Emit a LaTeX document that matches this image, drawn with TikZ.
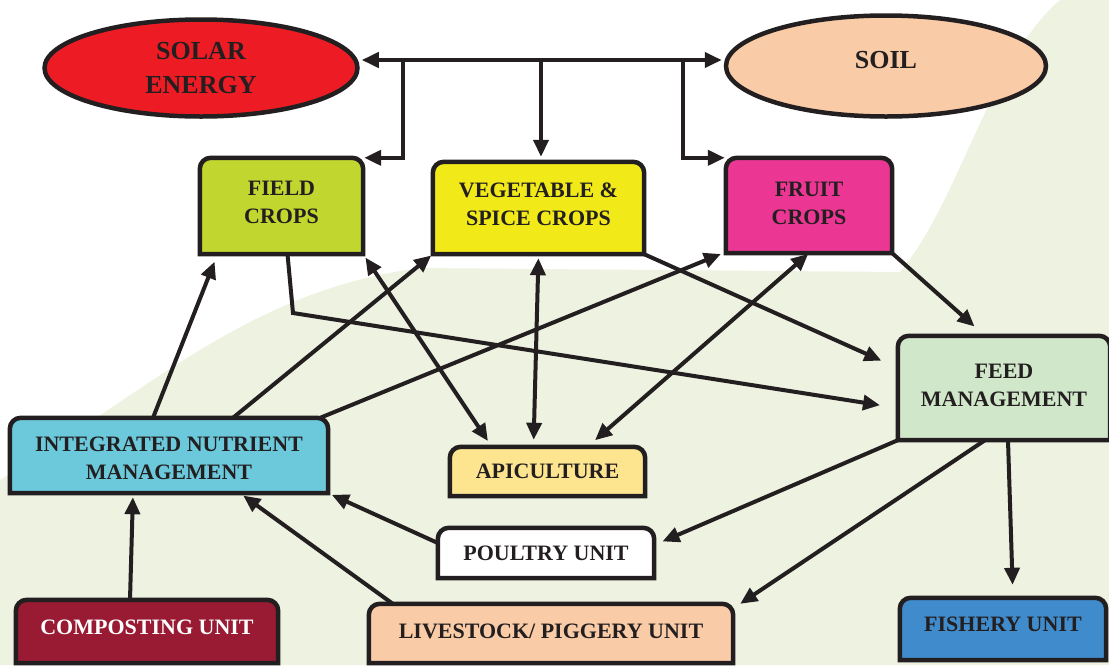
\documentclass[tikz,border=0pt]{standalone}
\usepackage{fontspec}
\setmainfont{Liberation Serif}
\usetikzlibrary{arrows.meta,shapes.geometric,backgrounds}

\definecolor{ink}{HTML}{231F20}
\definecolor{solarred}{HTML}{ED1C24}
\definecolor{soilpeach}{HTML}{F9CBA7}
\definecolor{fieldgreen}{HTML}{C1D72F}
\definecolor{vegyellow}{HTML}{F2EA18}
\definecolor{fruitpink}{HTML}{EC3694}
\definecolor{feedgreen}{HTML}{D0E7C9}
\definecolor{inmcyan}{HTML}{6BC9DB}
\definecolor{apiyellow}{HTML}{FDE48E}
\definecolor{compostred}{HTML}{981B33}
\definecolor{fishblue}{HTML}{3F8BCB}
\definecolor{bgtint}{HTML}{EEF2E0}

% box with rounded top corners only
\newcommand{\topbox}[2]{%
	\draw[line width=4.5pt, draw=ink, fill=#2] (#1.south west) -- ([yshift=-11pt]#1.north west)
		arc[start angle=180, end angle=90, radius=11pt] -- ([xshift=-11pt]#1.north east)
		arc[start angle=90, end angle=0, radius=11pt] -- (#1.south east) -- cycle;}

\begin{document}
\begin{tikzpicture}[
		x=1pt, y=-1pt,
		unit/.style={font=\bfseries\fontsize{22}{28}\selectfont, text=ink, align=center, inner sep=0pt},
		oval/.style={ellipse, draw=ink, line width=4.5pt, font=\bfseries\fontsize{26}{34}\selectfont, text=ink, align=center, inner sep=0pt},
		flow/.style={line width=4pt, draw=ink, -{Triangle[length=17pt, width=15pt]}},
		twoway/.style={flow, {Triangle[length=17pt, width=15pt]}-{Triangle[length=17pt, width=15pt]}}
	]
	\useasboundingbox (0,0) rectangle (1109,665);

	% sources
	\node[oval, fill=solarred, minimum width=313pt, minimum height=97pt] (solar) at (201,68) {SOLAR\\ENERGY};
	\node[oval, fill=soilpeach, minimum width=320pt, minimum height=101pt, text depth=12pt] (soil) at (886,66) {SOIL};

	% units
	\node[unit, minimum width=163pt, minimum height=96pt, text depth=8pt] (field) at (281.5,206) {FIELD\\CROPS};
	\node[unit, minimum width=211pt, minimum height=92pt, text depth=8pt] (veg) at (538.5,208) {VEGETABLE \&\\SPICE CROPS};
	\node[unit, minimum width=166pt, minimum height=95pt, text depth=5pt] (fruit) at (809,205.5) {FRUIT\\CROPS};
	\node[unit, minimum width=212pt, minimum height=104pt, text depth=6pt] (feed) at (1004,388) {FEED\\MANAGEMENT};
	\node[unit, minimum width=318pt, minimum height=75pt, text height=49pt] (inm) at (169,455.5) {INTEGRATED NUTRIENT\\MANAGEMENT};
	\node[unit, minimum width=195pt, minimum height=49pt] (api) at (547.5,471.5) {APICULTURE};
	\node[unit, minimum width=216pt, minimum height=50pt] (poultry) at (546,553) {POULTRY UNIT};
	\node[unit, text=white, minimum width=262pt, minimum height=63pt, text depth=8pt] (compost) at (147,631.5) {COMPOSTING UNIT};
	\node[unit, minimum width=364pt, minimum height=59pt, text depth=4pt] (livestock) at (551,633.5) {LIVESTOCK/ PIGGERY UNIT};
	\node[unit, minimum width=206pt, minimum height=62pt, text depth=10pt] (fishery) at (1003,629) {FISHERY UNIT};

	\begin{scope}[on background layer]
		\fill[bgtint] (0,665) -- (0,480) .. controls (150,390) and (250,290) .. (420,268)
			-- (900,272) .. controls (960,200) and (990,60) .. (1060,0) -- (1109,0) -- (1109,665) -- cycle;
		\foreach \n/\c in {field/fieldgreen, veg/vegyellow, fruit/fruitpink, feed/feedgreen,
				inm/inmcyan, api/apiyellow, poultry/white, compost/compostred,
				livestock/soilpeach, fishery/fishblue}
			{\topbox{\n}{\c}}
	\end{scope}

	% bus from the sources
	\coordinate (j1) at (403,60);
	\coordinate (j2) at (541,60);
	\coordinate (j3) at (683,60);
	\draw[twoway, shorten <=2pt, shorten >=2pt] (solar.east |- j1) -- (soil.west |- j1);
	\draw[flow, shorten >=1pt] (j1) |- (field.north east);
	\draw[flow, shorten >=5pt] (j2) -- (j2 |- veg.north);
	\draw[flow, shorten >=1pt] (j3) |- (fruit.north west);

	% crops
	\coordinate (bend) at (293,313);
	\draw[flow, shorten >=18pt] ([xshift=6pt]field.south) -- (bend) -- ([yshift=-20pt]feed.west);
	\draw[twoway, shorten <=4pt, shorten >=7pt] (field.south east) -- ([xshift=42pt]api.north west);
	\draw[twoway, shorten <=4pt, shorten >=7pt] (veg.south) -- ([xshift=-14pt]api.north);
	\draw[twoway, shorten <=1pt, shorten >=10pt] (fruit.south) -- ([xshift=40pt]api.north);
	\draw[flow, shorten >=18pt] (veg.south east) -- ([yshift=20pt]feed.west);
	\draw[flow, shorten >=14pt] (fruit.south east) -- ([xshift=-19pt]feed.north);

	% nutrient management
	\draw[flow, shorten >=8pt] ([xshift=-16pt]inm.north) -- ([xshift=-64pt]field.south);
	\draw[flow, shorten >=2pt] ([xshift=64pt]inm.north) -- (veg.south west);
	\draw[flow, shorten >=2pt] ([xshift=-8pt]inm.north east) -- ([xshift=-3pt]fruit.south west);
	\draw[flow, shorten >=4pt] ([yshift=10pt]poultry.west) -- (inm.south east);
	\draw[flow, shorten >=4pt] ([xshift=24pt]livestock.north west) -- ([xshift=71pt]inm.south);
	\draw[flow, shorten >=4pt] ([xshift=-17pt]compost.north) -- ([xshift=-36pt]inm.south);

	% feed management
	\draw[flow, shorten >=9pt] (feed.south west) -- ([yshift=8pt]poultry.east);
	\draw[flow] ([xshift=-19pt]feed.south) -- ([xshift=7pt]livestock.north east);
	\draw[flow, shorten >=13pt] ([xshift=4pt]feed.south) -- ([xshift=10pt]fishery.north);
\end{tikzpicture}
\end{document}
